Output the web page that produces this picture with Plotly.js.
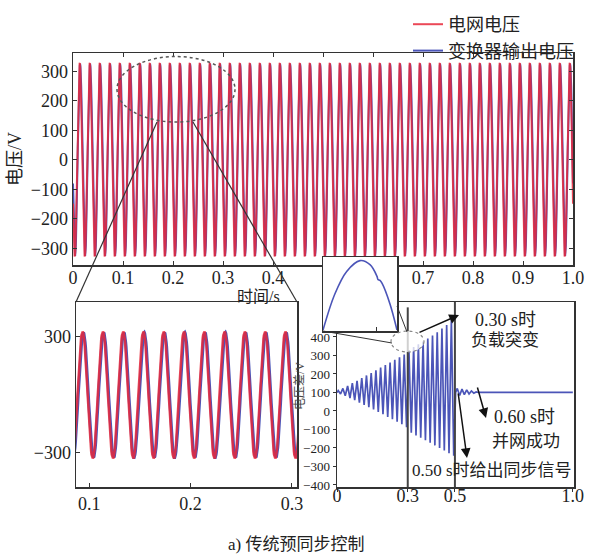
<!DOCTYPE html>
<html><head><meta charset="utf-8">
<script src="https://cdn.plot.ly/plotly-3.0.1.min.js"></script>
<style>html,body{margin:0;padding:0;background:#fff}#chart{width:589px;height:554px}</style>
</head><body><div id="chart"></div>
<script>
// ---------------- data ----------------
const seriesNames = ["电网电压", "变换器输出电压"];
const mainTimeTicks = [0, 0.1, 0.2, 0.3, 0.4, 0.5, 0.6, 0.7, 0.8, 0.9, 1.0];
const mainTimeTickText = ["0", "0.1", "0.2", "0.3", "0.4", "", "", "0.7", "0.8", "0.9", "1.0"];
const voltTicks = [-300, -200, -100, 0, 100, 200, 300];
// 50 Hz sinusoids (peak voltage, frequency, time of a peak)
const gridPeakVolts = 328;
const converterPeakVolts = 324;
const mainsFreqHz = 50;
const gridPeakTime = 0.0135;
const converterLagS = 0.0007;
const zoomTimeTicks = [0.1, 0.2, 0.3];
const zoomTimeTickText = ["0.1", "0.2", "0.3"];
const zoomVoltTicks = [-300, 300];
// voltage difference: per-cycle positive peaks and negative troughs, 0 - 0.5 s
const diffUpperPeaks = [110, 122, 135, 150, 163, 178, 192, 205, 220, 235, 248, 262, 276, 290, 305, 330, 345, 360, 375, 392, 408, 425, 445, 465, 490];
const diffLowerTroughs = [92, 82, 70, 58, 45, 32, 20, 8, -5, -18, -32, -45, -58, -72, -88, -118, -132, -145, -158, -172, -186, -200, -214, -228, -242];
const diffStartVolt = 100;
// settling after the synchronisation signal (0.5 s - 1.0 s)
const diffSettleTimes = [0.503, 0.51, 0.52, 0.53, 0.54, 0.55, 0.56, 0.57, 0.58, 0.59, 0.60, 1.0];
const diffSettleVolts = [100, 122, 84, 118, 88, 114, 92, 108, 96, 103, 100, 100];
const diffTimeTicks = [0, 0.3, 0.5, 1.0];
const diffTimeTickText = ["0", "0.3", "0.5", "1.0"];
const diffVoltTicks = [-400, -300, -200, -100, 0, 100, 200, 300, 400];
// magnified detail of one crest near 0.30 s
const detailTimes = [0.2950, 0.2966, 0.2982, 0.3000, 0.30135, 0.3023, 0.30243, 0.3027, 0.30297, 0.30405, 0.3050];
const detailVolts = [301, 341, 366, 378, 373.5, 360.5, 357, 356, 353, 330, 301];

// ---------------- build traces ----------------
const samplesPerSecond = 2500;
const tMain = [], vGrid = [], vConv = [];
for (let i = 0; i <= samplesPerSecond; i++) {
  const t = i / samplesPerSecond;
  tMain.push(t);
  vGrid.push(gridPeakVolts * Math.cos(2 * Math.PI * mainsFreqHz * (t - gridPeakTime)));
  vConv.push(converterPeakVolts * Math.cos(2 * Math.PI * mainsFreqHz * (t - gridPeakTime - converterLagS)));
}
const halfPeriod = 1 / mainsFreqHz / 2;
const tDiff = [0], vDiff = [diffStartVolt];
diffUpperPeaks.forEach((v, k) => {
  tDiff.push(halfPeriod / 2 + 2 * halfPeriod * k); vDiff.push(v);
  tDiff.push(halfPeriod * 1.5 + 2 * halfPeriod * k); vDiff.push(diffLowerTroughs[k]);
});
diffSettleTimes.forEach((t, k) => { tDiff.push(t); vDiff.push(diffSettleVolts[k]); });

const RED = "#e8283a", BLUE = "#4b55b8";
const traces = [
  {x: tMain, y: vConv, xaxis: "x", yaxis: "y", type: "scatter", mode: "lines", name: seriesNames[1], line: {color: BLUE, width: 2}, legendrank: 2},
  {x: tMain, y: vGrid, xaxis: "x", yaxis: "y", type: "scatter", mode: "lines", name: seriesNames[0], line: {color: RED, width: 2}, opacity: 0.85, legendrank: 1},
  {x: tMain, y: vConv, xaxis: "x2", yaxis: "y2", type: "scatter", mode: "lines", showlegend: false, line: {color: BLUE, width: 3}},
  {x: tMain, y: vGrid, xaxis: "x2", yaxis: "y2", type: "scatter", mode: "lines", showlegend: false, line: {color: RED, width: 2.6}, opacity: 0.85},
  {x: tDiff, y: vDiff, xaxis: "x3", yaxis: "y3", type: "scatter", mode: "lines", showlegend: false, line: {color: BLUE, width: 1.7}},
  {x: detailTimes, y: detailVolts, xaxis: "x4", yaxis: "y4", type: "scatter", mode: "lines", showlegend: false, line: {color: BLUE, width: 1.6, shape: "spline"}}
];

// ---------------- layout ----------------
const W = 589, H = 554;
const px = x => x / W, py = y => 1 - y / H;
const F = "'Liberation Serif', 'Times New Roman', 'Noto Sans CJK SC', serif";
const AX = {showline: true, linecolor: "#333", linewidth: 1.5, showgrid: false, zeroline: false, ticks: "inside", ticklen: 4, tickcolor: "#333", tickfont: {size: 18, family: F, color: "#222"}};
const txt = (x, y, text, size, extra) => Object.assign({xref: "paper", yref: "paper", x: px(x), y: py(y), xanchor: "center", yanchor: "middle", text: text, showarrow: false, font: {size: size, family: F, color: "#222"}}, extra || {});
const arrow = (hx, hy, tx, ty) => ({xref: "paper", yref: "paper", x: px(hx), y: py(hy), ax: tx - hx, ay: ty - hy, text: "", showarrow: true, arrowhead: 2, arrowsize: 1.3, arrowwidth: 1.5, arrowcolor: "#111", standoff: 0});

const layout = {
  width: W, height: H, margin: {l: 0, r: 0, t: 0, b: 0},
  paper_bgcolor: "#fff", plot_bgcolor: "#fff",
  font: {family: F, size: 18, color: "#222"},
  showlegend: true,
  legend: {x: px(408), y: py(6), xanchor: "left", yanchor: "top", bgcolor: "rgba(0,0,0,0)", font: {size: 18, family: F, color: "#222"}, tracegroupgap: 0},
  xaxis: Object.assign({}, AX, {domain: [px(73), px(573)], range: [0, 1], anchor: "y", tickvals: mainTimeTicks, ticktext: mainTimeTickText, mirror: "ticks", ticklabelstandoff: -4}),
  yaxis: Object.assign({}, AX, {domain: [py(265), py(53)], range: [-357, 362], anchor: "x", tickvals: voltTicks, mirror: "ticks",
    title: {text: "电压/V", font: {size: 18, family: F, color: "#222"}, standoff: 4}}),
  xaxis2: Object.assign({}, AX, {domain: [px(76), px(297)], range: [0.087, 0.305], anchor: "y2", tickvals: zoomTimeTicks, ticktext: zoomTimeTickText, mirror: true}),
  yaxis2: Object.assign({}, AX, {domain: [py(487), py(302)], range: [-476, 481], anchor: "x2", tickvals: zoomVoltTicks, mirror: true}),
  xaxis3: Object.assign({}, AX, {domain: [px(337), px(574)], range: [0, 1.005], anchor: "y3", tickvals: diffTimeTicks, ticktext: diffTimeTickText, mirror: true, ticks: "outside", ticklen: 3, ticklabelstandoff: -11}),
  yaxis3: Object.assign({}, AX, {domain: [py(487), py(302)], range: [-411, 589], anchor: "x3", tickvals: diffVoltTicks, mirror: true, ticks: "outside", ticklen: 3,
    tickfont: {size: 13, family: F, color: "#222"}}),
  xaxis4: Object.assign({}, AX, {domain: [px(323), px(397)], range: [0.295, 0.305], anchor: "y4", tickvals: [0.3022], showticklabels: false, mirror: true}),
  yaxis4: Object.assign({}, AX, {domain: [py(331), py(257)], range: [300, 382], anchor: "x4", ticks: "", showticklabels: false, mirror: true}),
  shapes: [
    // dotted ellipse on the main plot
    {type: "circle", xref: "x", yref: "y", x0: 0.088, x1: 0.324, y0: 128, y1: 350, line: {color: "#555", width: 1.5, dash: "dot"}, layer: "above"},
    {type: "line", xref: "paper", yref: "paper", x0: px(157), y0: py(122), x1: px(76), y1: py(302), line: {color: "#333", width: 1.2}, layer: "above"},
    {type: "line", xref: "paper", yref: "paper", x0: px(193), y0: py(122), x1: px(297), y1: py(302), line: {color: "#333", width: 1.2}, layer: "above"},
    // event lines in the difference plot
    {type: "line", xref: "x3", yref: "y3", x0: 0.3, x1: 0.3, y0: -411, y1: 560, line: {color: "#444", width: 2}, layer: "above"},
    {type: "line", xref: "x3", yref: "y3", x0: 0.5, x1: 0.5, y0: -411, y1: 589, line: {color: "#444", width: 2}, layer: "above"},
    // dashed ellipse and leader lines to the detail box
    {type: "circle", xref: "paper", yref: "paper", x0: px(391), x1: px(424), y0: py(352), y1: py(331), fillcolor: "rgba(255,255,255,0.75)", line: {color: "#888", width: 1.2, dash: "dot"}, layer: "above"},
    {type: "line", xref: "paper", yref: "paper", x0: px(323), y0: py(331), x1: px(392), y1: py(343), line: {color: "#333", width: 1}, layer: "above"},
    {type: "line", xref: "paper", yref: "paper", x0: px(397), y0: py(306), x1: px(407), y1: py(332), line: {color: "#333", width: 1}, layer: "above"}
  ],
  annotations: [
    txt(258, 296, "时间/s", 16),
    txt(300, 386, "电压差/V", 12, {textangle: -90, font: {size: 12, family: F, color: "#444"}}),
    txt(296, 544, "a) 传统预同步控制", 17),
    txt(505, 320, "0.30 s时", 18),
    txt(505, 340, "负载突变", 17),
    txt(524, 417, "0.60 s时", 18),
    txt(526, 441, "并网成功", 17),
    txt(492, 470, "0.50 s时给出同步信号", 17),
    arrow(459, 315, 418, 333),
    arrow(486, 418, 477, 386),
    arrow(467, 458, 458, 392)
  ]
};

Plotly.newPlot("chart", traces, layout, {displayModeBar: false, staticPlot: true});
</script>
</body></html>
